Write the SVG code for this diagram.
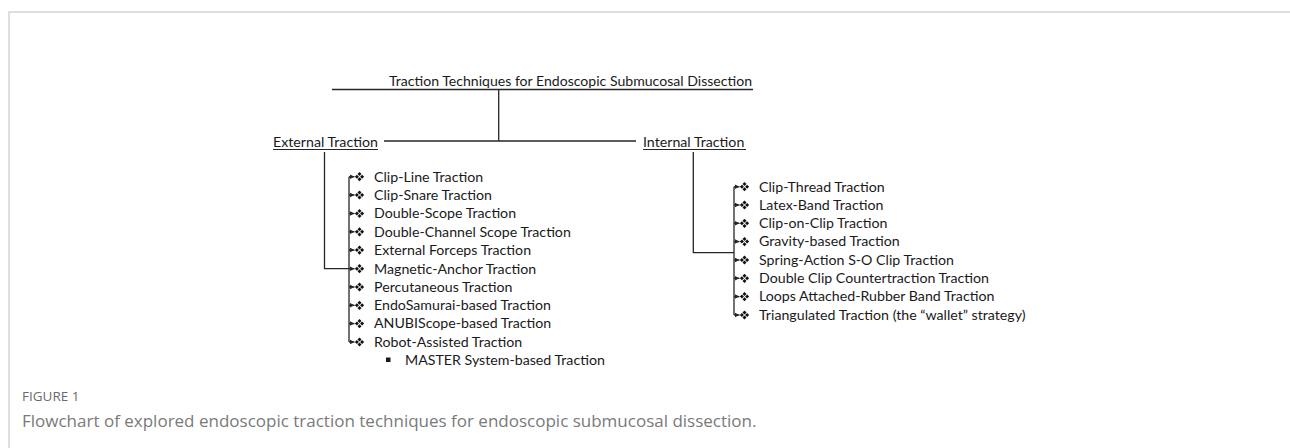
<svg xmlns="http://www.w3.org/2000/svg" width="1290" height="448" viewBox="0 0 1290 448">
<defs>
<style>
.t{font-family:Lato,"Liberation Sans",sans-serif;font-size:14.2px;fill:#1a1a1a}
.ln{stroke:#262626;stroke-width:1.3;fill:none}
.ul{stroke:#262626;stroke-width:1;fill:none}
.fr{stroke:#d4d4d4;stroke-width:1.5;fill:none}
.cap1{font-family:"Open Sans",sans-serif;font-size:13.5px;fill:#6b6b6b}
.cap2{font-family:"Open Sans",sans-serif;font-size:17px;fill:#7a7a7a}
</style>
<marker id="ah" markerWidth="6" markerHeight="6" refX="5" refY="3" orient="auto" markerUnits="userSpaceOnUse">
<path d="M0,0.5 L5,3 L0,5.5 Z" fill="#262626"/>
</marker>
<g id="dm">
<path d="M0,-4.6 L2,-2.6 L0,-0.6 L-2,-2.6 Z M0,4.6 L2,2.6 L0,0.6 L-2,2.6 Z M-4.6,0 L-2.6,2 L-0.6,0 L-2.6,-2 Z M4.6,0 L2.6,2 L0.6,0 L2.6,-2 Z" fill="#111"/>
</g>
</defs>
<rect width="1290" height="448" fill="#fff"/>
<path class="fr" d="M9,448 V12 H1290"/>

<g id="connectors">
<path class="ln" d="M332,89.5 H753"/>
<path class="ln" d="M498.7,89.5 V141"/>
<path class="ln" d="M384,141 H636"/>
<path class="ln" d="M324.5,152 V268.7 H349"/>
<path class="ln" d="M349,176.7 V342"/>
<g class="ln" marker-end="url(#ah)">
<path d="M349,176.7 H354.5"/>
<path d="M349,195 H354.5"/>
<path d="M349,213.5 H354.5"/>
<path d="M349,231.8 H354.5"/>
<path d="M349,250.1 H354.5"/>
<path d="M349,268.7 H354.5"/>
<path d="M349,287 H354.5"/>
<path d="M349,305.3 H354.5"/>
<path d="M349,323.6 H354.5"/>
<path d="M349,342 H354.5"/>
</g>
<path class="ln" d="M693.3,152 V252.7 H734"/>
<path class="ln" d="M734,186.7 V315"/>
<g class="ln" marker-end="url(#ah)">
<path d="M734,186.7 H739.5"/>
<path d="M734,205 H739.5"/>
<path d="M734,223.3 H739.5"/>
<path d="M734,241.6 H739.5"/>
<path d="M734,260 H739.5"/>
<path d="M734,278.3 H739.5"/>
<path d="M734,296.6 H739.5"/>
<path d="M734,315 H739.5"/>
</g>
</g>

<g id="root">
<text class="t" x="389" y="86" textLength="363" lengthAdjust="spacingAndGlyphs">Traction Techniques for  Endoscopic Submucosal Dissection</text>
</g>
<g id="external">
<text class="t" x="273" y="146.5">External Traction</text>
<path class="ul" d="M273,149.5 H378"/>
</g>
<g id="internal">
<text class="t" x="643" y="146.5">Internal Traction</text>
<path class="ul" d="M643,149.5 H746"/>
</g>

<g id="external-items">
<use href="#dm" x="359.5" y="176.7"/>
<use href="#dm" x="359.5" y="195"/>
<use href="#dm" x="359.5" y="213.5"/>
<use href="#dm" x="359.5" y="231.8"/>
<use href="#dm" x="359.5" y="250.1"/>
<use href="#dm" x="359.5" y="268.7"/>
<use href="#dm" x="359.5" y="287"/>
<use href="#dm" x="359.5" y="305.3"/>
<use href="#dm" x="359.5" y="323.6"/>
<use href="#dm" x="359.5" y="342"/>
<text class="t" x="374" y="181.5">Clip-Line Traction</text>
<text class="t" x="374" y="199.8">Clip-Snare Traction</text>
<text class="t" x="374" y="218.3">Double-Scope Traction</text>
<text class="t" x="374" y="236.6">Double-Channel Scope Traction</text>
<text class="t" x="374" y="254.9">External Forceps Traction</text>
<text class="t" x="374" y="273.5">Magnetic-Anchor Traction</text>
<text class="t" x="374" y="291.8">Percutaneous Traction</text>
<text class="t" x="374" y="310.1">EndoSamurai-based Traction</text>
<text class="t" x="374" y="328.4">ANUBIScope-based Traction</text>
<text class="t" x="374" y="346.8">Robot-Assisted Traction</text>
<rect x="386" y="357.5" width="4.5" height="4.5" fill="#1a1a1a"/>
<text class="t" x="405" y="365.1">MASTER System-based Traction</text>
</g>

<g id="internal-items">
<use href="#dm" x="744.5" y="186.7"/>
<use href="#dm" x="744.5" y="205"/>
<use href="#dm" x="744.5" y="223.3"/>
<use href="#dm" x="744.5" y="241.6"/>
<use href="#dm" x="744.5" y="260"/>
<use href="#dm" x="744.5" y="278.3"/>
<use href="#dm" x="744.5" y="296.6"/>
<use href="#dm" x="744.5" y="315"/>
<text class="t" x="759" y="191.5">Clip-Thread Traction</text>
<text class="t" x="759" y="209.8">Latex-Band Traction</text>
<text class="t" x="759" y="228.1">Clip-on-Clip Traction</text>
<text class="t" x="759" y="246.4">Gravity-based Traction</text>
<text class="t" x="759" y="264.8">Spring-Action S-O Clip Traction</text>
<text class="t" x="759" y="283.1">Double Clip Countertraction Traction</text>
<text class="t" x="759" y="301.4">Loops Attached-Rubber Band Traction</text>
<text class="t" x="759" y="319.8">Triangulated Traction (the “wallet” strategy)</text>
</g>

<g id="caption">
<text class="cap1" x="22" y="401">FIGURE 1</text>
<text class="cap2" x="22" y="427">Flowchart of explored endoscopic traction techniques for endoscopic submucosal dissection.</text>
</g>
</svg>
